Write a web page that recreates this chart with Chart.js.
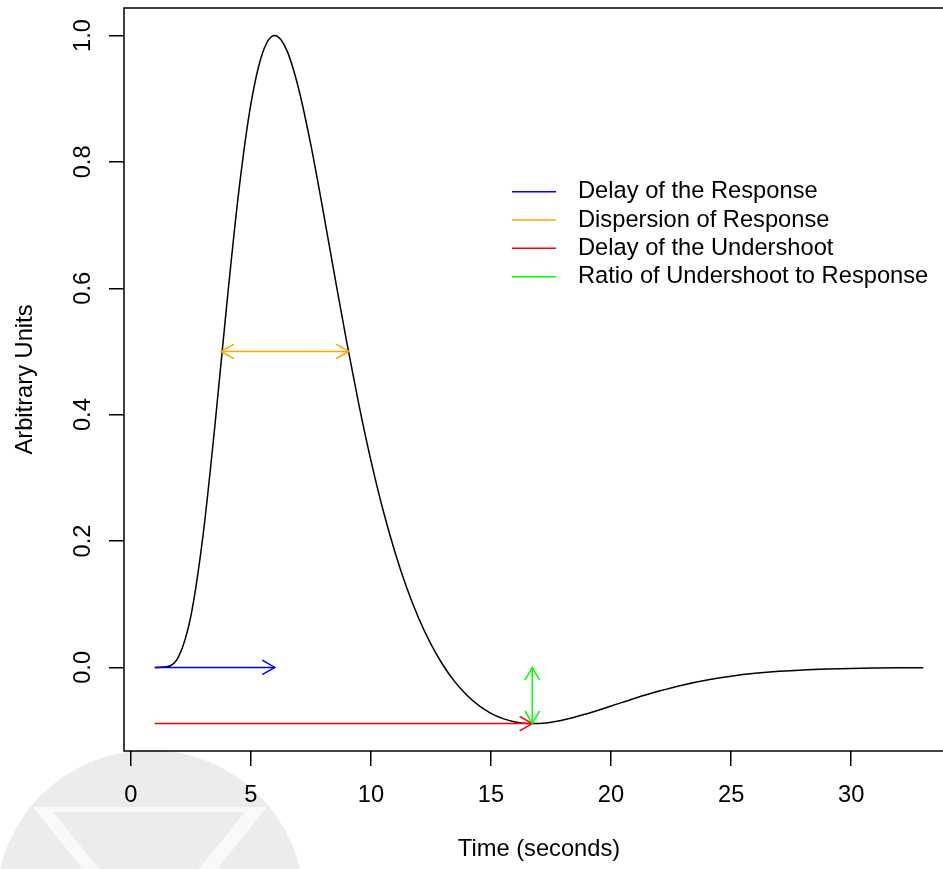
<!DOCTYPE html>
<html>
<head>
<meta charset="utf-8">
<title>Haemodynamic response</title>
<script src="https://cdn.jsdelivr.net/npm/chart.js@4/dist/chart.umd.min.js"></script>
<style>
    html, body { margin: 0; padding: 0; background: #fff; overflow: hidden; }
    #wrap { width: 943px; height: 869px; overflow: hidden; position: relative; }
    #hrf-chart { display: block; }
</style>
</head>
<body>
<div id="wrap"><canvas id="hrf-chart" width="970" height="869"></canvas></div>
<script>
// Canonical haemodynamic response with its four parameters marked

// Time (seconds) and response height
const timeSec = [1, 1.5, 2, 2.5, 3, 3.5, 4, 4.5, 5, 5.5, 6, 6.5, 7, 7.5, 8, 8.5, 9, 9.5,
    10, 10.5, 11, 11.5, 12, 12.5, 13, 13.5, 14, 14.5, 15, 15.5, 16, 16.5, 17,
    18, 19, 20, 21, 22, 23, 24, 25, 26, 27, 28, 29, 30, 31, 32, 33];
const response = [0, 0.0009, 0.0175, 0.0805, 0.2057, 0.3807, 0.5746, 0.7533, 0.8908, 0.9736,
    1.0, 0.9765, 0.9146, 0.8268, 0.7248, 0.6180, 0.5135, 0.4159, 0.3277, 0.2499,
    0.1827, 0.1253, 0.0771, 0.0369, 0.0038, -0.0229, -0.0442, -0.0606, -0.0728, -0.0811,
    -0.0863, -0.0886, -0.0887,
    -0.0833, -0.0733, -0.0612, -0.0488, -0.0375, -0.0277, -0.0199, -0.0139, -0.0094,
    -0.0062, -0.0040, -0.0026, -0.0016, -0.0010, -0.0006, -0.0004];

// Axis ticks
const xTickValues = [0, 5, 10, 15, 20, 25, 30];
const yTickValues = [0, 0.2, 0.4, 0.6, 0.8, 1.0];

// Parameter arrows (data units)
const arrowLabels = ['Delay of the Response', 'Dispersion of Response',
    'Delay of the Undershoot', 'Ratio of Undershoot to Response'];
const arrowColors = ['#0000ff', '#ffa500', '#ff0000', '#00ff00'];
const arrowFromX = [1, 3.77, 1, 16.72];
const arrowToX = [6, 9.08, 16.72, 16.72];
const arrowFromY = [0, 0.5, -0.0889, -0.0889];
const arrowToY = [0, 0.5, -0.0889, 0];
const arrowBothEnds = [false, true, false, true];

const FONT_SIZE = 23.7;
const FONT_FAMILY = '"Liberation Sans", Arial, sans-serif';
const FONT = FONT_SIZE + 'px ' + FONT_FAMILY;

// White page plus the faint logo under the x axis
const backdropPlugin = {
    id: 'backdrop',
    beforeDraw(chart) {
        const ctx = chart.ctx;
        ctx.save();
        ctx.fillStyle = '#ffffff';
        ctx.fillRect(0, 0, chart.width, chart.height);
        ctx.fillStyle = '#ececec';
        ctx.beginPath();
        ctx.arc(150, 904, 154, 0, Math.PI * 2);
        ctx.fill();
        ctx.clip();
        ctx.fillStyle = '#f9f9f9';
        ctx.beginPath();
        ctx.moveTo(33, 807); ctx.lineTo(267, 807); ctx.lineTo(150, 953);
        ctx.closePath();
        ctx.fill();
        ctx.fillStyle = '#ececec';
        ctx.beginPath();
        ctx.moveTo(53, 812); ctx.lineTo(245, 812); ctx.lineTo(149, 930);
        ctx.closePath();
        ctx.fill();
        ctx.restore();
    }
};

// open arrow head at (tx, ty) pointing away from (fx, fy)
function drawHead(ctx, fx, fy, tx, ty) {
    const ang = Math.atan2(ty - fy, tx - fx);
    const len = 14.6, spread = Math.PI / 6;
    ctx.beginPath();
    ctx.moveTo(tx - len * Math.cos(ang - spread), ty - len * Math.sin(ang - spread));
    ctx.lineTo(tx, ty);
    ctx.lineTo(tx - len * Math.cos(ang + spread), ty - len * Math.sin(ang + spread));
    ctx.stroke();
}

const arrowHeadPlugin = {
    id: 'arrowHeads',
    afterDatasetsDraw(chart) {
        const ctx = chart.ctx;
        const xs = chart.scales.x, ys = chart.scales.y;
        ctx.save();
        ctx.lineWidth = 1.5;
        arrowLabels.forEach((label, i) => {
            const fx = xs.getPixelForValue(arrowFromX[i]);
            const fy = ys.getPixelForValue(arrowFromY[i]);
            const tx = xs.getPixelForValue(arrowToX[i]);
            const ty = ys.getPixelForValue(arrowToY[i]);
            ctx.strokeStyle = arrowColors[i];
            drawHead(ctx, fx, fy, tx, ty);
            if (arrowBothEnds[i]) drawHead(ctx, tx, ty, fx, fy);
        });
        ctx.restore();
    }
};

// Box, rotated y tick labels and the legend
const framePlugin = {
    id: 'frame',
    afterDraw(chart) {
        const ctx = chart.ctx;
        const area = chart.chartArea;
        ctx.save();
        ctx.strokeStyle = '#000';
        ctx.lineWidth = 1.5;
        ctx.strokeRect(area.left, area.top, area.right - area.left, area.bottom - area.top);

        ctx.font = FONT;
        ctx.fillStyle = '#000';
        ctx.textAlign = 'center';
        ctx.textBaseline = 'alphabetic';
        yTickValues.forEach(v => {
            const py = chart.scales.y.getPixelForValue(v);
            ctx.save();
            ctx.translate(90, py);
            ctx.rotate(-Math.PI / 2);
            ctx.fillText(v.toFixed(1), 0, 0);
            ctx.restore();
        });

        const legendX = 512, legendY = 191.7, rowH = 28.33;
        ctx.textAlign = 'left';
        ctx.textBaseline = 'middle';
        arrowLabels.forEach((label, i) => {
            const y = legendY + i * rowH;
            ctx.strokeStyle = arrowColors[i];
            ctx.beginPath();
            ctx.moveTo(legendX, y);
            ctx.lineTo(legendX + 44, y);
            ctx.stroke();
            ctx.fillText(label, legendX + 66, y);
        });
        ctx.restore();
    }
};

function initChart() {
    const ctx = document.getElementById('hrf-chart').getContext('2d');

    const arrowSets = arrowLabels.map((label, i) => ({
        label: label,
        data: [{ x: arrowFromX[i], y: arrowFromY[i] }, { x: arrowToX[i], y: arrowToY[i] }],
        borderColor: arrowColors[i],
        borderWidth: 1.5,
        pointRadius: 0,
        tension: 0,
        order: 0
    }));

    new Chart(ctx, {
        type: 'line',
        data: {
            datasets: [{
                label: 'Response',
                data: timeSec.map((t, i) => ({ x: t, y: response[i] })),
                borderColor: '#000',
                borderWidth: 1.5,
                pointRadius: 0,
                cubicInterpolationMode: 'monotone',
                order: 1
            }].concat(arrowSets)
        },
        options: {
            responsive: false,
            animation: false,
            devicePixelRatio: 1,
            layout: { padding: { left: 0, top: 8, right: 16, bottom: 0 } },
            plugins: {
                legend: { display: false },
                tooltip: { enabled: false }
            },
            scales: {
                x: {
                    type: 'linear',
                    min: -0.28,
                    max: 34.28,
                    afterBuildTicks: axis => { axis.ticks = xTickValues.map(v => ({ value: v })); },
                    afterFit: axis => { axis.height = 118; },
                    ticks: {
                        autoSkip: false,
                        maxRotation: 0,
                        padding: 15,
                        color: '#000',
                        font: { size: FONT_SIZE, family: FONT_FAMILY },
                        callback: v => String(v)
                    },
                    grid: { drawOnChartArea: false, drawTicks: true, tickLength: 15, color: '#000', lineWidth: 1.5 },
                    border: { display: false },
                    title: {
                        display: true,
                        text: 'Time (seconds)',
                        color: '#000',
                        padding: { top: 0, bottom: 5 },
                        font: { size: FONT_SIZE, family: FONT_FAMILY }
                    }
                },
                y: {
                    type: 'linear',
                    min: -0.1323,
                    max: 1.0435,
                    afterBuildTicks: axis => { axis.ticks = yTickValues.map(v => ({ value: v })); },
                    afterFit: axis => { axis.width = 124; },
                    ticks: { display: false },
                    grid: { drawOnChartArea: false, drawTicks: true, tickLength: 15, color: '#000', lineWidth: 1.5 },
                    border: { display: false },
                    title: {
                        display: true,
                        text: 'Arbitrary Units',
                        color: '#000',
                        padding: { top: 11, bottom: 0 },
                        font: { size: FONT_SIZE, family: FONT_FAMILY }
                    }
                }
            }
        },
        plugins: [backdropPlugin, arrowHeadPlugin, framePlugin]
    });
}

initChart();
</script>
</body>
</html>
